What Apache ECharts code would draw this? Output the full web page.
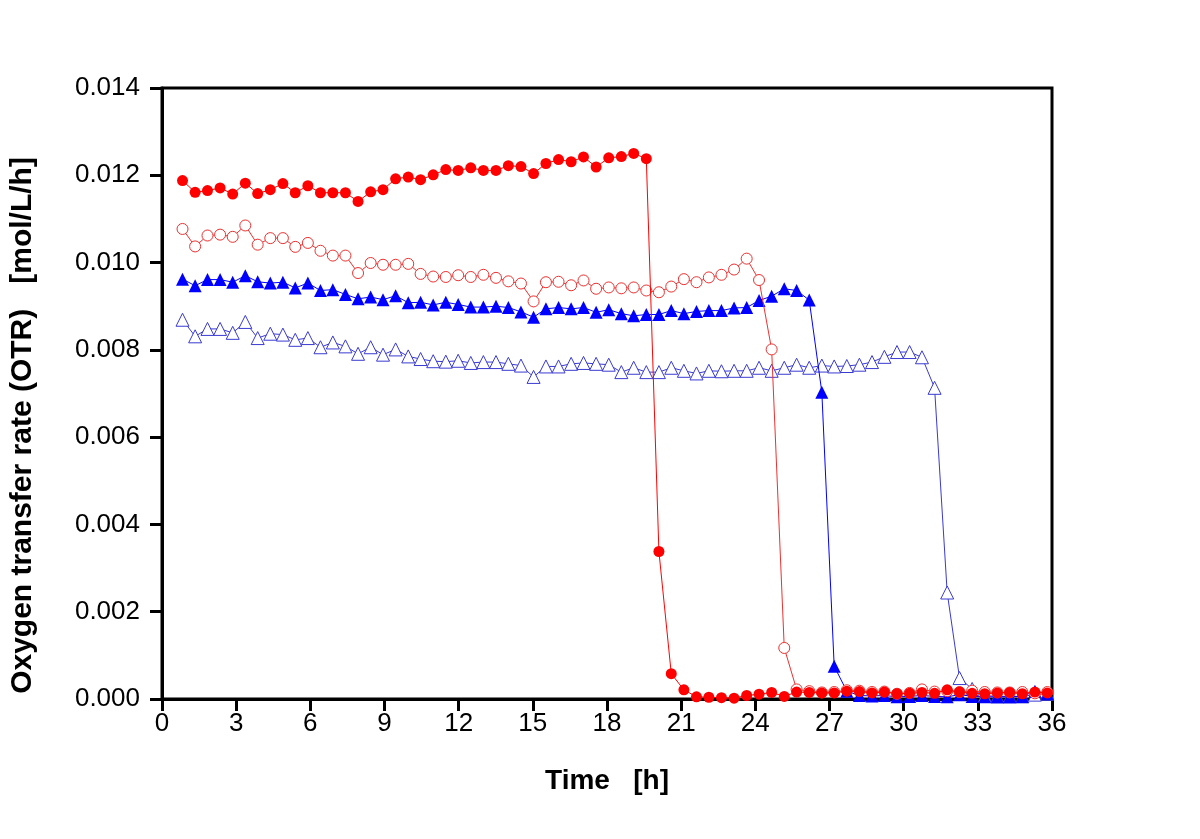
<!DOCTYPE html>
<html>
<head>
<meta charset="utf-8">
<script src="https://cdn.jsdelivr.net/npm/echarts@6/dist/echarts.min.js"></script>
<style>
html,body{margin:0;padding:0;background:#fff;}
#chart{width:1200px;height:839px;}
</style>
</head>
<body>
<div id="chart"></div>
<script>
// Sampling times [h] (shared by all series)
const timeH = [0.83,1.34,1.84,2.35,2.86,3.37,3.87,4.38,4.89,5.39,5.90,6.41,6.91,7.42,7.93,8.44,8.94,9.45,9.96,10.46,
  10.97,11.48,11.98,12.49,13.00,13.51,14.01,14.52,15.03,15.53,16.04,16.55,17.05,17.56,18.07,18.58,19.08,19.59,20.10,20.60,
  21.11,21.62,22.12,22.63,23.14,23.65,24.15,24.66,25.17,25.67,26.18,26.69,27.19,27.70,28.21,28.72,29.22,29.73,30.24,30.74,
  31.25,31.76,32.26,32.77,33.28,33.79,34.29,34.80,35.31,35.81];

// OTR [mol/L/h]
const redFilled = [0.01188,0.01161,0.01165,0.01171,0.01157,0.01182,0.01158,0.01167,0.01181,0.01160,0.01176,0.01160,0.01160,0.01160,0.01140,0.01162,0.01167,0.01192,0.01196,0.01190,
  0.01201,0.01213,0.01211,0.01217,0.01211,0.01211,0.01222,0.01220,0.01204,0.01227,0.01236,0.01231,0.01242,0.01219,0.01240,0.01243,0.01250,0.01238,0.00338,0.00058,
  0.00021,0.00005,0.00004,0.00003,0.00002,0.00008,0.00011,0.00015,0.00006,0.00016,0.00015,0.00014,0.00014,0.00018,0.00017,0.00014,0.00016,0.00012,0.00013,0.00015,
  0.00013,0.00021,0.00016,0.00013,0.00012,0.00014,0.00015,0.00012,0.00016,0.00014];

const redOpen = [0.01077,0.01037,0.01062,0.01064,0.01059,0.01085,0.01041,0.01056,0.01056,0.01036,0.01045,0.01027,0.01016,0.01016,0.00976,0.00999,0.00995,0.00995,0.00997,0.00974,
  0.00968,0.00967,0.00971,0.00967,0.00972,0.00965,0.00957,0.00952,0.00911,0.00955,0.00956,0.00948,0.00959,0.00940,0.00943,0.00941,0.00943,0.00936,0.00932,0.00945,
  0.00962,0.00955,0.00966,0.00972,0.00984,0.01009,0.00960,0.00801,0.00117,0.00022,0.00018,0.00015,0.00016,0.00020,0.00019,0.00016,0.00017,0.00012,0.00014,0.00022,
  0.00017,0.00018,0.00016,0.00019,0.00016,0.00015,0.00015,0.00016,0.00013,0.00016];

const blueFilled = [0.00962,0.00947,0.00961,0.00961,0.00955,0.00970,0.00956,0.00953,0.00955,0.00942,0.00953,0.00936,0.00938,0.00927,0.00917,0.00921,0.00915,0.00924,0.00908,0.00909,
  0.00903,0.00909,0.00904,0.00898,0.00898,0.00900,0.00897,0.00887,0.00875,0.00894,0.00897,0.00894,0.00897,0.00886,0.00892,0.00883,0.00878,0.00881,0.00881,0.00890,
  0.00883,0.00888,0.00890,0.00890,0.00896,0.00897,0.00913,0.00923,0.00940,0.00936,0.00914,0.00703,0.00075,0.00018,0.00008,0.00007,0.00008,0.00005,0.00006,0.00008,
  0.00006,0.00005,0.00010,0.00006,0.00005,0.00005,0.00005,0.00006,0.00018,0.00012];

const blueOpen = [0.00869,0.00831,0.00848,0.00848,0.00839,0.00864,0.00827,0.00837,0.00835,0.00823,0.00827,0.00806,0.00817,0.00808,0.00791,0.00806,0.00789,0.00801,0.00785,0.00779,
  0.00774,0.00773,0.00775,0.00770,0.00772,0.00772,0.00768,0.00764,0.00738,0.00762,0.00762,0.00768,0.00770,0.00768,0.00766,0.00749,0.00759,0.00749,0.00749,0.00759,
  0.00752,0.00746,0.00752,0.00751,0.00752,0.00752,0.00759,0.00752,0.00759,0.00766,0.00759,0.00764,0.00762,0.00763,0.00766,0.00772,0.00784,0.00795,0.00795,0.00783,
  0.00713,0.00244,0.00048,0.00023,0.00008,0.00006,0.00006,0.00006,0.00010,0.00012];

const xTicks = {min: 0, max: 36, step: 3};
const yTicks = {min: 0, max: 0.014, step: 0.002};

function pairs(vals){ return timeH.map((t,i)=>[t, vals[i]]); }

const FONT = 'Liberation Sans, Arial, sans-serif';
const chart = echarts.init(document.getElementById('chart'), null, {renderer:'canvas'});

const axisCommon = {
  axisLine:{show:true, onZero:false, lineStyle:{color:'#000', width:3}},
  axisTick:{show:true, inside:false, length:12, lineStyle:{color:'#000', width:3}},
  splitLine:{show:false},
  axisLabel:{color:'#000', fontSize:26, fontFamily:FONT}
};

chart.setOption({
  animation:false,
  backgroundColor:'#fff',
  grid:{left:162, top:88, width:890, height:611, show:true, borderColor:'#000', borderWidth:3, containLabel:false},
  xAxis:{
    type:'value', min:xTicks.min, max:xTicks.max, interval:xTicks.step,
    name:'Time   [h]', nameLocation:'middle', nameGap:68,
    nameTextStyle:{color:'#000', fontSize:28, fontWeight:'bold', fontFamily:FONT},
    ...axisCommon,
    axisLabel:{...axisCommon.axisLabel, margin:12}
  },
  yAxis:{
    type:'value', min:yTicks.min, max:yTicks.max, interval:yTicks.step,
    name:'Oxygen transfer rate (OTR)   [mol/L/h]', nameLocation:'middle', nameGap:124, nameRotate:90,
    nameTextStyle:{color:'#000', fontSize:30, fontWeight:'bold', fontFamily:FONT, padding:[0,64,0,0]},
    ...axisCommon,
    axisLabel:{...axisCommon.axisLabel, margin:22, formatter:v=>v.toFixed(3)}
  },
  series:[
    {name:'blueOpen', type:'line', data:pairs(blueOpen), symbol:'triangle', symbolSize:13,
     lineStyle:{color:'#3a3ad0', width:1}, itemStyle:{color:'#fff', borderColor:'#3a3ad0', borderWidth:1}, z:2},
    {name:'blueFilled', type:'line', data:pairs(blueFilled), symbol:'triangle', symbolSize:13,
     lineStyle:{color:'#0000ff', width:1}, itemStyle:{color:'#0000ff', borderColor:'#0000ff', borderWidth:0}, z:3},
    {name:'redOpen', type:'line', data:pairs(redOpen), symbol:'circle', symbolSize:11,
     lineStyle:{color:'#ee3030', width:1}, itemStyle:{color:'#fff', borderColor:'#ee3030', borderWidth:1}, z:4},
    {name:'redFilled', type:'line', data:pairs(redFilled), symbol:'circle', symbolSize:11,
     lineStyle:{color:'#ff0000', width:1}, itemStyle:{color:'#ff0000', borderWidth:0}, z:5}
  ]
});
</script>
</body>
</html>
